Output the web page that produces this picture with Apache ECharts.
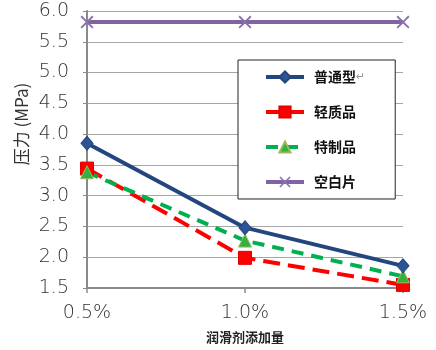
<!DOCTYPE html>
<html>
<head>
<meta charset="utf-8">
<script src="https://cdn.jsdelivr.net/npm/echarts@6/dist/echarts.min.js"></script>
<style>
  html, body { margin: 0; padding: 0; background: #fff; }
  #chart { width: 436px; height: 350px; }
</style>
</head>
<body>
<div id="chart"></div>
<script>
// Lubricant dosage (x) vs. pressure in MPa (y)
const dosages = ['0.5%', '1.0%', '1.5%'];
const standardType = [3.85, 2.48, 1.86];   // 普通型
const lightweight = [3.44, 1.99, 1.55];    // 轻质品
const specialMade = [3.38, 2.27, 1.69];    // 特制品
const blankSample = [5.82, 5.82, 5.82];    // 空白片
const yTicks = { min: 1.5, max: 6.0, step: 0.5 };

const tickFont = { fontFamily: 'DejaVu Sans', fontWeight: 200, fontSize: 19, color: '#333' };
const crossPath = 'path://M0,1L1,0L5,4L9,0L10,1L6,5L10,9L9,10L5,6L1,10L0,9L4,5Z';

const chart = echarts.init(document.getElementById('chart'), null, { renderer: 'canvas' });
chart.setOption({
  animation: false,
  backgroundColor: '#fff',
  grid: { left: 87, right: 33, top: 11, bottom: 62, containLabel: false },
  xAxis: {
    type: 'category',
    data: dosages,
    boundaryGap: false,
    name: '润滑剂添加量',
    nameLocation: 'middle',
    nameGap: 43,
    nameTextStyle: { fontFamily: 'Noto Sans CJK SC', fontSize: 13, fontWeight: 'bold', color: '#222' },
    axisLine: { lineStyle: { color: '#8a8a8a', width: 2 } },
    axisTick: { show: true, length: 5, alignWithLabel: true, lineStyle: { color: '#8a8a8a', width: 1.5 } },
    axisLabel: Object.assign({ margin: 16 }, tickFont),
    splitLine: { show: false }
  },
  yAxis: {
    type: 'value',
    min: yTicks.min,
    max: yTicks.max,
    interval: yTicks.step,
    axisLine: { show: true, lineStyle: { color: '#8a8a8a', width: 2 } },
    axisTick: { show: true, length: 4, lineStyle: { color: '#8a8a8a' } },
    axisLabel: Object.assign({ margin: 18, formatter: v => v.toFixed(1) }, tickFont),
    splitLine: { show: true, lineStyle: { color: '#a6a6a6', width: 1 } }
  },
  legend: {
    orient: 'vertical',
    left: 238,
    top: 60,
    padding: [10, 30, 10, 26],
    itemGap: 21,
    itemWidth: 38,
    itemHeight: 14,
    backgroundColor: '#fff',
    borderColor: '#222',
    borderWidth: 1,
    lineStyle: { width: 4 },
    textStyle: {
      fontFamily: 'Noto Sans CJK SC', fontSize: 14, fontWeight: 'bold', color: '#111',
      padding: [0, 0, 0, 5],
      rich: {
        ret: { fontFamily: 'DejaVu Sans', fontSize: 11, color: '#999', fontWeight: 'normal' }
      }
    },
    formatter: name => name === '普通型' ? '普通型{ret|↵}' : name,
    data: ['普通型', '轻质品', '特制品', '空白片']
  },
  graphic: [{
    type: 'text',
    x: 22,
    y: 124,
    rotation: Math.PI / 2,
    style: {
      text: '压力 (MPa)',
      fontFamily: 'Noto Sans CJK SC',
      fontSize: 17,
      fill: '#333',
      align: 'center',
      verticalAlign: 'middle'
    }
  }],
  series: [
    {
      name: '普通型',
      type: 'line',
      data: standardType,
      symbol: 'diamond',
      symbolSize: [12, 14],
      lineStyle: { color: '#24467f', width: 4 },
      itemStyle: { color: '#2c5596', borderColor: '#24467f', borderWidth: 1 },
      z: 4
    },
    {
      name: '轻质品',
      type: 'line',
      data: lightweight,
      symbol: 'rect',
      symbolSize: 13,
      lineStyle: { color: '#ff0000', width: 4, type: [17, 8] },
      itemStyle: { color: '#ff0000', borderColor: '#e00000', borderWidth: 1 },
      z: 3
    },
    {
      name: '特制品',
      type: 'line',
      data: specialMade,
      symbol: 'triangle',
      symbolSize: 13,
      lineStyle: { color: '#00b050', width: 4, type: [12, 8] },
      itemStyle: { color: '#33b040', borderColor: '#9bbb59', borderWidth: 1 },
      z: 3
    },
    {
      name: '空白片',
      type: 'line',
      data: blankSample,
      symbol: crossPath,
      symbolSize: 13,
      lineStyle: { color: '#8064a2', width: 4 },
      itemStyle: { color: '#8a70ad' },
      z: 2
    }
  ]
});
</script>
</body>
</html>
